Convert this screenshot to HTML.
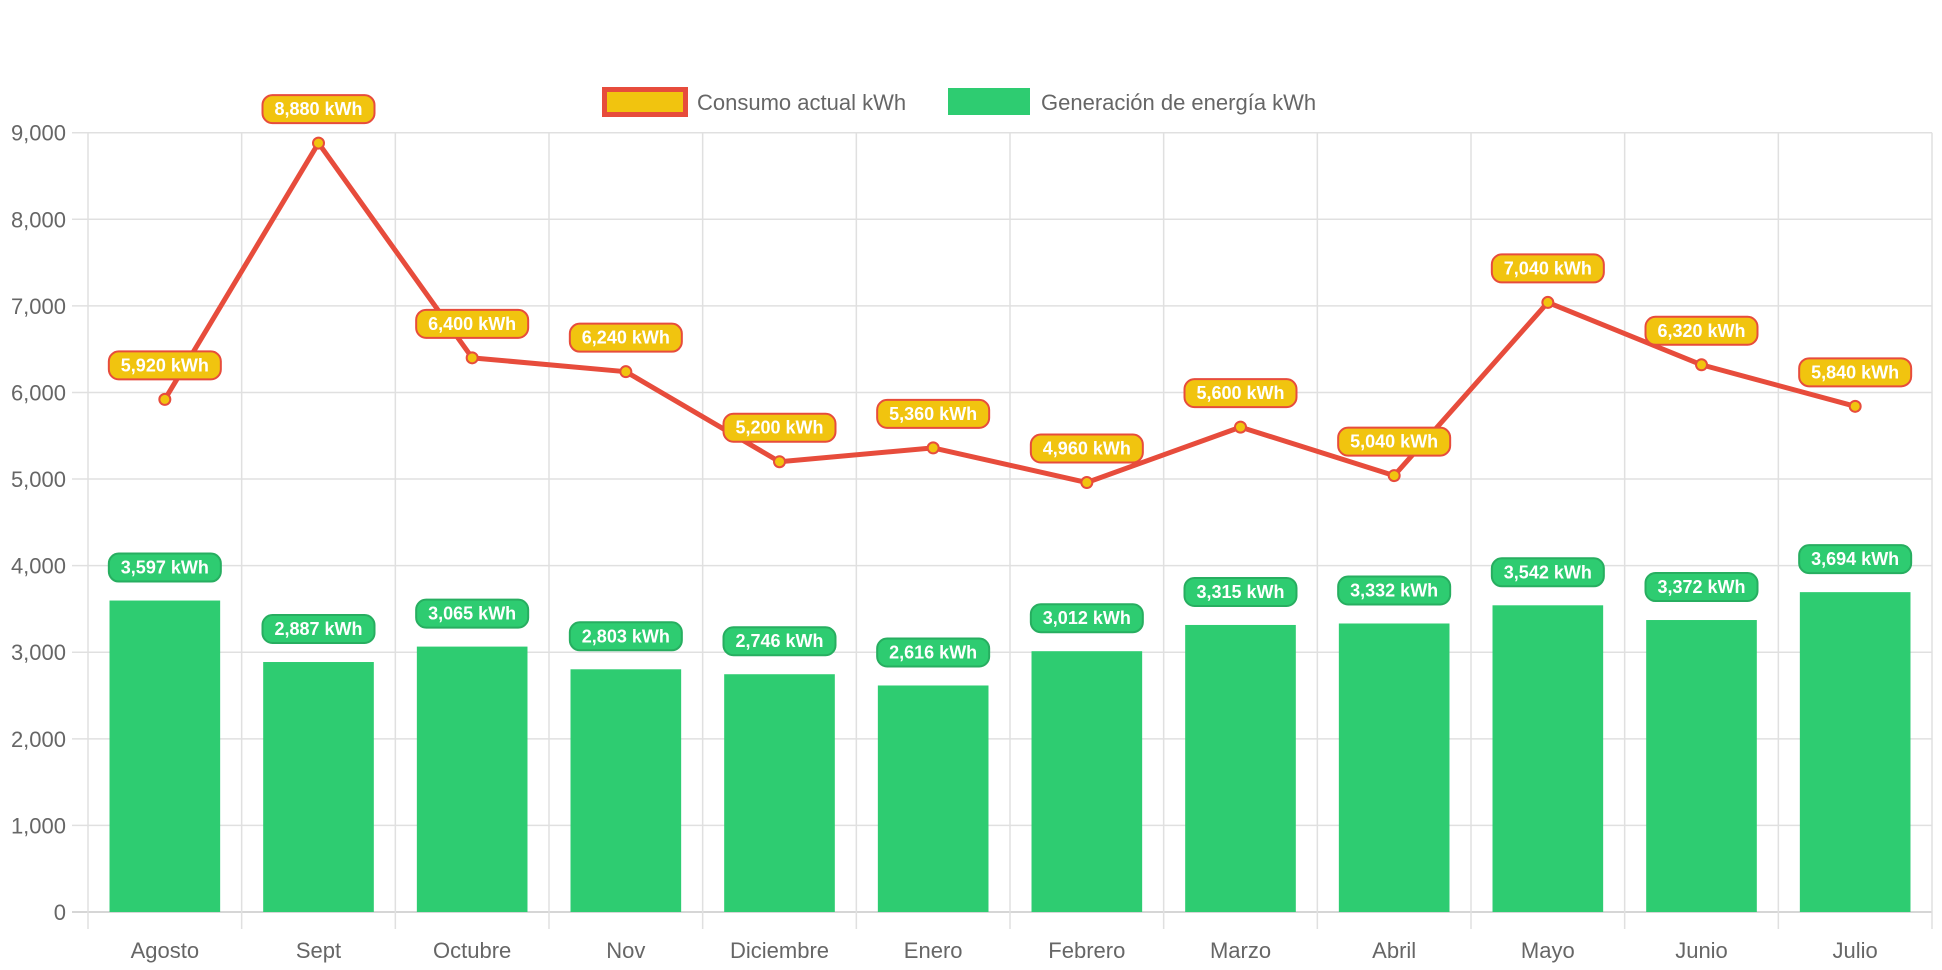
<!DOCTYPE html>
<html><head><meta charset="utf-8">
<style>
html,body{margin:0;padding:0;background:#fff;}
svg{display:block;font-family:"Liberation Sans",Arial,sans-serif;}
</style></head>
<body>
<svg id="chart" width="1942" height="970" viewBox="0 0 1942 970" xmlns="http://www.w3.org/2000/svg">
  <g id="legend">
    <g>
      <rect x="604.5" y="89.5" width="81" height="25" fill="#f1c40f" stroke="#e74c3c" stroke-width="5"/>
      <text x="697" y="110" font-size="22" fill="#666">Consumo actual kWh</text>
    </g>
    <g>
      <rect x="948" y="88" width="82" height="27" fill="#2ecc71"/>
      <text x="1041" y="110" font-size="22" fill="#666">Generación de energía kWh</text>
    </g>
  </g>
  <g id="grid"></g>
  <g id="bars"></g>
  <g id="line"></g>
  <g id="labels"></g>
</svg>
<script>
const categories = ["Agosto","Sept","Octubre","Nov","Diciembre","Enero","Febrero","Marzo","Abril","Mayo","Junio","Julio"];
const consumo = [5920,8880,6400,6240,5200,5360,4960,5600,5040,7040,6320,5840];
const generacion = [3597,2887,3065,2803,2746,2616,3012,3315,3332,3542,3372,3694];
const yTicks = [0,1000,2000,3000,4000,5000,6000,7000,8000,9000];

const NS = "http://www.w3.org/2000/svg";
const L = 88, R = 1932, T = 132.7, B = 912, YMAX = 9000;
const cw = (R - L) / categories.length;
function y(v){ return B - (v / YMAX) * (B - T); }
function xc(i){ return L + cw * (i + 0.5); }
function mk(tag, attrs, parent){
  const e = document.createElementNS(NS, tag);
  for (const k in attrs) e.setAttribute(k, attrs[k]);
  parent.appendChild(e); return e;
}
function fmt(v){ return v.toLocaleString("en-US") + " kWh"; }

const grid = document.getElementById("grid");
yTicks.forEach(t => {
  const g = mk("line", {x1: L - 16, x2: R, y1: y(t), y2: y(t), stroke: t === 0 ? "#c8c8c8" : "#e0e0e0", "stroke-width": 1.5}, grid);
  
  
  const tx = mk("text", {x: L - 22, y: y(t) + 8, "text-anchor": "end", "font-size": 22, fill: "#666"}, grid);
  tx.textContent = t.toLocaleString("en-US");
  
  
});
for (let i = 0; i <= categories.length; i++) {
  const x = L + cw * i;
  const v = mk("line", {x1: x, x2: x, y1: T, y2: B + 17, stroke: "#e0e0e0", "stroke-width": 1.5}, grid);
  
  
}
categories.forEach((c, i) => {
  const tx = mk("text", {x: xc(i), y: 958, "text-anchor": "middle", "font-size": 22, fill: "#666"}, grid);
  tx.textContent = c;
  
  
});

const bars = document.getElementById("bars");
const bw = cw * 0.72;
generacion.forEach((v, i) => {
  const r = mk("rect", {x: xc(i) - bw / 2, y: y(v), width: bw, height: B - y(v), fill: "#2ecc71"}, bars);
  
  
});

const line = document.getElementById("line");
const pts = consumo.map((v, i) => xc(i) + "," + y(v)).join(" ");
const pl = mk("polyline", {points: pts, fill: "none", stroke: "#e74c3c", "stroke-width": 5, "stroke-linejoin": "round"}, line);


consumo.forEach((v, i) => {
  const c = mk("circle", {cx: xc(i), cy: y(v), r: 5.5, fill: "#f1c40f", stroke: "#e74c3c", "stroke-width": 2}, line);
  
  
});

const labels = document.getElementById("labels");
function label(x, bottom, text, fill, stroke, name){
  const g = mk("g", {}, labels);
  
  
  const w = 112, h = 28;
  mk("rect", {x: x - w / 2, y: bottom - h, width: w, height: h, rx: 10, fill: fill, stroke: stroke, "stroke-width": 2}, g);
  const t = mk("text", {x: x, y: bottom - 8, "text-anchor": "middle", "font-size": 18, "font-weight": "bold", fill: "#fff"}, g);
  t.textContent = text;
}
generacion.forEach((v, i) => label(xc(i), y(v) - 19, fmt(v), "#2ecc71", "#27ae60", "generacion-label"));
consumo.forEach((v, i) => label(xc(i), y(v) - 20, fmt(v), "#f1c40f", "#e74c3c", "consumo-label"));
</script>
</body></html>
